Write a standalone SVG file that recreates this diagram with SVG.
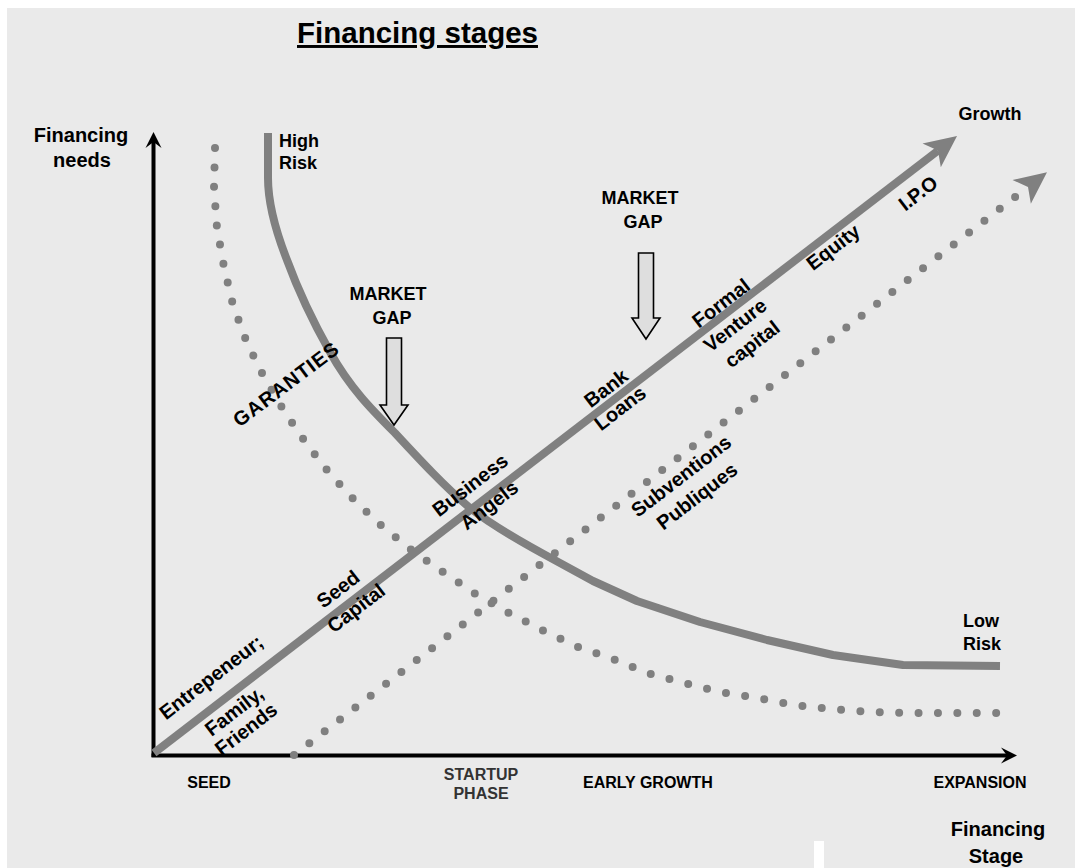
<svg xmlns="http://www.w3.org/2000/svg" width="1075" height="868" viewBox="0 0 1075 868">
<style>
text{font-family:"Liberation Sans",Arial,sans-serif;font-weight:bold;fill:#000}
.t16{font-size:16px}
.t18{font-size:18px}
.t20{font-size:20px}
.rl{font-size:20px;text-anchor:middle}
.mid{text-anchor:middle}
.gray{stroke:#808080;fill:none}
.dots{stroke:#808080;fill:none;stroke-width:8;stroke-linecap:round;stroke-dasharray:0 19.4}
.block{fill:#dedede;stroke:#000;stroke-width:1.6;stroke-linejoin:miter}
</style>
<defs>
<marker id="growHead" markerUnits="userSpaceOnUse" viewBox="-10 -20 40 40" refX="0" refY="0" markerWidth="40" markerHeight="40" orient="auto">
<path d="M24,0 L-8,-15 L0,0 L-8,15 Z" fill="#808080"/>
</marker>
<marker id="axisHead" markerUnits="userSpaceOnUse" viewBox="-10 -12 24 24" refX="0" refY="0" markerWidth="24" markerHeight="24" orient="auto">
<path d="M10,0 L-6,-8 L0,0 L-6,8 Z" fill="#000"/>
</marker>
</defs>
<g id="background">
<rect x="0" y="0" width="1075" height="868" fill="#ffffff"/>
<rect x="7" y="8" width="1068" height="860" fill="#eaeaea"/>
<rect x="814" y="841" width="10" height="27" fill="#ffffff"/>
</g>
<g id="axes">
<line x1="153.5" y1="757" x2="153.5" y2="142" stroke="#000" stroke-width="4" marker-end="url(#axisHead)"/>
<line x1="151.5" y1="755.5" x2="1007" y2="755.5" stroke="#000" stroke-width="4" marker-end="url(#axisHead)"/>
</g>
<g id="connectors">
<path id="guarantees-curve" class="dots" d="M215,148 L214,188 L217,228 L224,267 L233,305 L247,343 L264,377 L284,411 L306,443 L330,474 L357,503 L384,528 L414,552 L446,574 L477,595 L509,613 L544,631 L578,647 L613,659 L647,673 L684,683 L720,692 L757,698 L794,705 L832,709 L869,712 L906,713 L998,713"/>
<path id="subsidies-line" class="dots" d="M294,755 L1028,187" marker-end="url(#growHead)"/>
<path id="risk-curve" class="gray" stroke-width="8" stroke-linejoin="round" d="M268,133 L268,178 C268,205 276,232 287,260 C298,290 312,320 330,352 C350,388 372,410 395,433 C420,460 445,487 470,508 C495,528 530,547 560,563 L593,581 L637,601 L700,622 L767,640 L833,655 L903,665 L1000,666"/>
<path id="growth-line" class="gray" stroke-width="8" d="M154,753 L938,150.6" marker-end="url(#growHead)"/>
</g>
<g id="market-gap-1">
<polygon class="block" points="386.5,338 401.5,338 401.5,405 408,405 394,425 380,405 386.5,405"/>
<text class="t18 mid" x="388" y="300">MARKET</text>
<text class="t18 mid" x="392" y="324">GAP</text>
</g>
<g id="market-gap-2">
<polygon class="block" points="638.5,253 653.5,253 653.5,318 660,318 646,339 632,318 638.5,318"/>
<text class="t18 mid" x="640" y="204">MARKET</text>
<text class="t18 mid" x="643" y="228">GAP</text>
</g>
<g id="title">
<text x="297" y="43" style="font-size:29.5px;text-decoration:underline">Financing stages</text>
</g>
<g id="y-axis-label">
<text class="t20 mid" x="81" y="142">Financing</text>
<text class="t20 mid" x="82" y="167">needs</text>
</g>
<g id="x-axis-label">
<text class="t20 mid" x="998" y="836">Financing</text>
<text class="t20 mid" x="996" y="863">Stage</text>
</g>
<g id="high-risk">
<text class="t18" x="279" y="147">High</text>
<text class="t18" x="279" y="169">Risk</text>
</g>
<g id="low-risk">
<text class="t18" x="963" y="627">Low</text>
<text class="t18" x="963" y="650">Risk</text>
</g>
<g id="growth-label">
<text class="t18 mid" x="990" y="120">Growth</text>
</g>
<g id="stage-labels">
<text class="t16 mid" x="209" y="788">SEED</text>
<text class="t16 mid" x="481" y="780" style="fill:#333">STARTUP</text>
<text class="t16 mid" x="481" y="799" style="fill:#333">PHASE</text>
<text class="t16" x="583" y="788">EARLY GROWTH</text>
<text class="t16 mid" x="980" y="788">EXPANSION</text>
</g>
<g id="label-entrepreneur">
<text class="rl" transform="translate(211,677) rotate(-37.5)" dy="0.35em">Entrepeneur;</text>
</g>
<g id="label-family">
<text class="rl" transform="translate(234,711) rotate(-37.5)" dy="0.35em">Family,</text>
<text class="rl" transform="translate(246,729) rotate(-37.5)" dy="0.35em">Friends</text>
</g>
<g id="label-seed-capital">
<text class="rl" transform="translate(338,589) rotate(-37.5)" dy="0.35em">Seed</text>
<text class="rl" transform="translate(356,608) rotate(-37.5)" dy="0.35em">Capital</text>
</g>
<g id="label-business-angels">
<text class="rl" transform="translate(470,485) rotate(-37.5)" dy="0.35em">Business</text>
<text class="rl" transform="translate(489,505) rotate(-37.5)" dy="0.35em">Angels</text>
</g>
<g id="label-bank-loans">
<text class="rl" transform="translate(606,388) rotate(-37.5)" dy="0.35em">Bank</text>
<text class="rl" transform="translate(620,408) rotate(-37.5)" dy="0.35em">Loans</text>
</g>
<g id="label-venture">
<text class="rl" transform="translate(721,303) rotate(-37.5)" dy="0.35em">Formal</text>
<text class="rl" transform="translate(735,325) rotate(-37.5)" dy="0.35em">Venture</text>
<text class="rl" transform="translate(752,344) rotate(-37.5)" dy="0.35em">capital</text>
</g>
<g id="label-equity">
<text class="rl" transform="translate(833,247) rotate(-37.5)" dy="0.35em">Equity</text>
</g>
<g id="label-ipo">
<text class="rl" transform="translate(918,193) rotate(-37.5)" dy="0.35em">I.P.O</text>
</g>
<g id="label-subventions">
<text class="rl" transform="translate(681,476) rotate(-37.5)" dy="0.35em">Subventions</text>
<text class="rl" transform="translate(697,496) rotate(-37.5)" dy="0.35em">Publiques</text>
</g>
<g id="label-garanties">
<text class="rl" transform="translate(286,384) rotate(-37)" dy="0.35em" style="letter-spacing:1px">GARANTIES</text>
</g>
</svg>
